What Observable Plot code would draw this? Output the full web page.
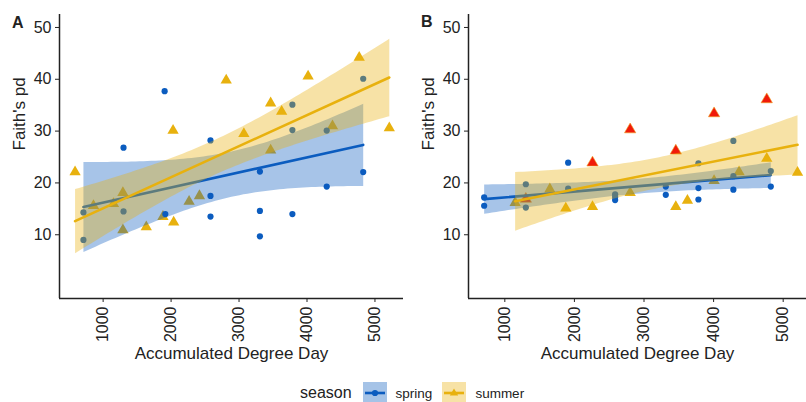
<!DOCTYPE html>
<html>
<head>
<meta charset="utf-8">
<script src="https://cdn.jsdelivr.net/npm/d3@7"></script>
<script src="https://cdn.jsdelivr.net/npm/@observablehq/plot@0.6"></script>
<style>
  html, body { margin: 0; padding: 0; background: #fff; }
  body { width: 806px; height: 402px; position: relative; overflow: hidden; font-family: "Liberation Sans", Arial, sans-serif; color: #222; }
  #panelA { position: absolute; left: 0; top: 0; }
  #panelB { position: absolute; left: 403px; top: 0; }
  .tag { position: absolute; font-weight: bold; font-size: 16px; line-height: 1; }
  #legend { position: absolute; top: 382px; left: 300px; height: 22px; display: flex; align-items: center; font-size: 13.5px; }
  #legend .title { font-size: 16px; margin-right: 11px; }
  #legend svg { display: block; }
  #legend .lab { margin-left: 9px; margin-right: 10px; }
</style>
</head>
<body>
<div id="panelA"></div>
<div id="panelB"></div>
<div class="tag" style="left:12px;top:15px;">A</div>
<div class="tag" style="left:421px;top:14px;">B</div>
<div id="legend"></div>
<script>
// ---- data ----
const seasons = ["spring", "summer"];
const seasonColors = ["#0b5cbf", "#e8b10e"];
const highlightColor = "#f01a0a";
const yTicks = [10, 20, 30, 40, 50];
const xTicks = [1000, 2000, 3000, 4000, 5000];
const yLabel = "Faith's pd";
const xLabel = "Accumulated Degree Day";

// Panel A
const springA_x = [710, 710, 1300, 1300, 1905, 1915, 2580, 2580, 2580, 3307, 3307, 3307, 3785, 3785, 3785, 4290, 4290, 4827, 4827];
const springA_y = [14.3, 9.0, 26.8, 14.5, 37.7, 14.0, 28.2, 17.5, 13.5, 22.2, 14.6, 9.7, 35.1, 30.2, 14.0, 30.1, 19.3, 40.1, 22.1];
const summerA_x = [587, 858, 1152, 1291, 1291, 1635, 1880, 2029, 2038, 2265, 2417, 2811, 3071, 3465, 3465, 3627, 4016, 4375, 4768, 5211];
const summerA_y = [22.1, 15.6, 16.0, 18.1, 10.9, 11.5, 13.5, 30.1, 12.4, 16.4, 17.5, 39.8, 29.5, 35.4, 26.3, 33.8, 40.6, 31.0, 44.2, 30.6];

// Panel B
const springB_x = [703, 703, 1302, 1302, 1910, 1910, 2585, 2585, 2585, 3313, 3313, 3782, 3782, 3782, 4284, 4284, 4284, 4822, 4822];
const springB_y = [17.2, 15.6, 19.75, 15.25, 23.9, 18.9, 17.8, 17.3, 16.7, 19.3, 17.7, 23.8, 19.0, 16.8, 28.1, 21.3, 18.7, 22.3, 19.3];
const summerB_x = [1148, 1302, 1647, 1876, 2260, 2260, 2801, 2801, 3457, 3457, 3624, 4007, 4007, 4366, 4764, 4764, 5206];
const summerB_y = [16.2, 16.9, 18.8, 15.1, 23.9, 15.4, 30.3, 18.1, 26.2, 15.4, 16.6, 33.4, 20.4, 22.1, 36.1, 24.7, 22.0];
const summerB_red = [false, true, false, false, true, false, true, false, true, false, false, true, false, false, true, false, false];

// scale domains (ggplot's expanded ranges)
const xDomainA = [358, 5420];
const xDomainB = [478, 5335];
const yDomain = [-2.3, 52.5];

// ---- build tables ----
const tbl = (xs, ys, season, red) => xs.map((x, i) => ({x, y: ys[i], season, red: red ? red[i] : false}));
const springA = tbl(springA_x, springA_y, "spring");
const summerA = tbl(summerA_x, summerA_y, "summer");
const springB = tbl(springB_x, springB_y, "spring");
const summerB = tbl(summerB_x, summerB_y, "summer", summerB_red);

function panel(spring, summer, xDomain, width, marginLeft) {
  const col = seasonColors;
  return Plot.plot({
    width, height: 375,
    marginLeft, marginRight: 0, marginTop: 14, marginBottom: 77,
    style: {fontFamily: "'Liberation Sans', Arial, sans-serif", fontSize: "16px", color: "#222", background: "transparent", overflow: "visible"},
    x: {domain: xDomain},
    y: {domain: yDomain},
    marks: [
      Plot.axisY({ticks: yTicks, tickFormat: d3.format("d"), tickSize: 4, tickPadding: 4, label: null, fontSize: 16, stroke: "#222"}),
      Plot.axisX({ticks: xTicks, tickFormat: d3.format("d"), tickSize: 4, tickPadding: 4, tickRotate: -90, label: null, fontSize: 16, stroke: "#222"}),
      Plot.ruleX([xDomain[0]], {stroke: "#222", strokeWidth: 1.5}),
      Plot.ruleY([yDomain[0]], {stroke: "#222", strokeWidth: 1.5}),
      Plot.text([yLabel], {text: d => d, frameAnchor: "left", dx: -40, dy: -6, rotate: -90, fontSize: 17, fill: "#222"}),
      Plot.text([xLabel], {text: d => d, frameAnchor: "bottom", dy: 60, fontSize: 17, fill: "#222"}),
      // points
      Plot.dot(summer, {x: "x", y: "y", symbol: "triangle", r: 4.2, fill: d => d.red ? highlightColor : col[1], stroke: d => d.red ? "#f0a020" : "none", strokeWidth: 0.6}),
      Plot.dot(spring, {x: "x", y: "y", symbol: "circle", r: 3.1, fill: col[0]}),
      // regressions with 95% CI
      Plot.linearRegressionY(spring, {x: "x", y: "y", stroke: col[0], fill: col[0], fillOpacity: 0.36, strokeWidth: 2.6}),
      Plot.linearRegressionY(summer, {x: "x", y: "y", stroke: col[1], fill: col[1], fillOpacity: 0.37, strokeWidth: 2.6})
    ]
  });
}

document.getElementById("panelA").append(panel(springA, summerA, xDomainA, 403, 59));
document.getElementById("panelB").append(panel(springB, summerB, xDomainB, 403, 65));

// ---- legend ----
const lg = document.getElementById("legend");
const t = document.createElement("span"); t.className = "title"; t.textContent = "season"; lg.append(t);
seasons.forEach((s, i) => {
  const ns = "http://www.w3.org/2000/svg";
  const svg = document.createElementNS(ns, "svg");
  svg.setAttribute("width", 24); svg.setAttribute("height", 22);
  const c = seasonColors[i];
  const rect = document.createElementNS(ns, "rect");
  rect.setAttribute("width", 24); rect.setAttribute("height", 22); rect.setAttribute("fill", c); rect.setAttribute("fill-opacity", 0.37);
  svg.append(rect);
  const line = document.createElementNS(ns, "line");
  line.setAttribute("x1", 2); line.setAttribute("x2", 22); line.setAttribute("y1", 11); line.setAttribute("y2", 11);
  line.setAttribute("stroke", c); line.setAttribute("stroke-width", 2.6);
  svg.append(line);
  if (i === 0) {
    const ci = document.createElementNS(ns, "circle");
    ci.setAttribute("cx", 12); ci.setAttribute("cy", 11); ci.setAttribute("r", 3.1); ci.setAttribute("fill", c);
    svg.append(ci);
  } else {
    const p = document.createElementNS(ns, "path");
    p.setAttribute("d", "M12,6.5L16.2,13.5L7.8,13.5Z"); p.setAttribute("fill", c);
    svg.append(p);
  }
  lg.append(svg);
  const l = document.createElement("span"); l.className = "lab"; l.textContent = s; lg.append(l);
});
</script>
</body>
</html>
